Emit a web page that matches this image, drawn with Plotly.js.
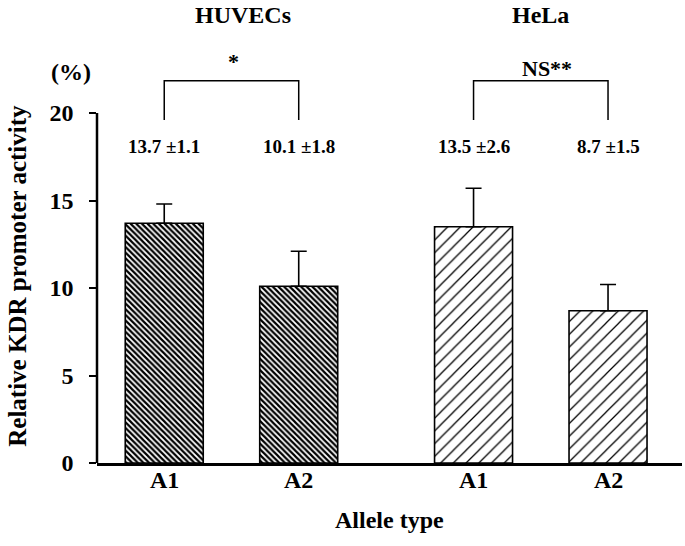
<!DOCTYPE html>
<html>
<head>
<meta charset="utf-8">
<script src="https://cdn.plot.ly/plotly-3.0.1.min.js"></script>
<style>
  html, body { margin: 0; padding: 0; background: #fff; }
  #chart { width: 685px; height: 546px; }
</style>
</head>
<body>
<div id="chart"></div>
<script>
// values
var cells = ['HUVECs', 'HUVECs', 'HeLa', 'HeLa'];
var alleles = ['A1', 'A2', 'A1', 'A2'];
var means = [13.7, 10.1, 13.5, 8.7];
var errs = [1.1, 2.0, 2.2, 1.5];   // error bars as drawn
var labels = ['13.7 \u00b11.1', '10.1 \u00b11.8', '13.5 \u00b12.6', '8.7 \u00b11.5'];
var groups = ['HUVECs', 'HeLa'];
var signif = ['*', 'NS**'];
var yTicks = [0, 5, 10, 15, 20];

var FONT = 'Liberation Serif, Times New Roman, serif';

// bar positions: one unit between alleles, a wider gap between the cell groups
var pos = cells.map(function (c, i) { return i + groups.indexOf(c) * 0.3; });

function pick(arr, g) {
  return arr.filter(function (v, i) { return cells[i] === g; });
}

var patterns = {
  HUVECs: {shape: '\\', size: 4, solidity: 0.55, fgcolor: '#000', bgcolor: '#fff'},
  HeLa: {shape: '/', size: 9, solidity: 0.14, fgcolor: '#000', bgcolor: '#fff'}
};

var data = groups.map(function (g) {
  return {
    type: 'bar',
    x: pick(pos, g),
    y: pick(means, g),
    width: 0.58,
    marker: {
      color: '#fff',
      line: {color: '#000', width: 1.6},
      pattern: patterns[g]
    },
    error_y: {
      type: 'data',
      symmetric: false,
      array: pick(errs, g),
      arrayminus: pick(errs, g).map(function () { return 0; }),
      color: '#000',
      thickness: 1.6,
      width: 8
    },
    hoverinfo: 'skip',
    showlegend: false
  };
});

var shapes = [];
var annotations = [];

// y axis line only from 0 to 20
shapes.push({type: 'line', xref: 'paper', x0: 0, x1: 0, yref: 'y', y0: 0, y1: 20,
  line: {color: '#000', width: 2.5}});

groups.forEach(function (g, k) {
  var xs = pick(pos, g);
  var mid = (xs[0] + xs[1]) / 2;
  shapes.push({
    type: 'path', xref: 'x', yref: 'y',
    path: 'M ' + xs[0] + ',19.6 L ' + xs[0] + ',21.85 L ' + xs[1] + ',21.85 L ' + xs[1] + ',19.6',
    line: {color: '#000', width: 1.5}
  });
  annotations.push({x: mid, xref: 'x', xshift: k === 0 ? 12 : 0, y: 1.067, yref: 'paper',
    yanchor: 'middle', text: '<b>' + g + '</b>',
    showarrow: false, font: {family: FONT, size: 24, color: '#000'}});
  annotations.push({x: mid, xref: 'x', xshift: k === 0 ? 2 : 6, y: k === 0 ? 22.95 : 22.55, yref: 'y',
    text: '<b>' + signif[k] + '</b>',
    showarrow: false, font: {family: FONT, size: 22, color: '#000'}});
});

labels.forEach(function (t, i) {
  annotations.push({x: pos[i], xref: 'x', y: 18.1, yref: 'y', text: '<b>' + t + '</b>',
    showarrow: false, font: {family: FONT, size: 19, color: '#000'}});
});

// x tick labels and axis titles
alleles.forEach(function (a, i) {
  annotations.push({x: pos[i], xref: 'x', y: 0, yref: 'paper', yanchor: 'top', yshift: -2,
    text: '<b>' + a + '</b>', showarrow: false, font: {family: FONT, size: 24, color: '#000'}});
});
annotations.push({x: 0.5, xref: 'paper', xanchor: 'center', y: 0, yref: 'paper', yanchor: 'top', yshift: -42,
  text: '<b>Allele type</b>', showarrow: false, font: {family: FONT, size: 24, color: '#000'}});

annotations.push({x: -0.044, xref: 'paper', xanchor: 'center', y: 22.35, yref: 'y', text: '<b>(%)</b>',
  showarrow: false, font: {family: FONT, size: 24, color: '#000'}});
annotations.push({x: -0.135, xref: 'paper', xanchor: 'center', y: 10.7, yref: 'y', textangle: -90,
  text: '<b>Relative KDR promoter activity</b>',
  showarrow: false, font: {family: FONT, size: 25, color: '#000'}});

var layout = {
  width: 685,
  height: 546,
  margin: {l: 97, r: 3, t: 43, b: 83},
  paper_bgcolor: '#fff',
  plot_bgcolor: '#fff',
  font: {family: FONT, color: '#000'},
  xaxis: {
    range: [-0.5, 3.85],
    showticklabels: false,
    ticks: '',
    showgrid: false,
    zeroline: false,
    showline: true,
    linecolor: '#000',
    linewidth: 2.5
  },
  yaxis: {
    range: [0, 24],
    tickvals: yTicks,
    // trailing spaces push the labels a little further from the axis
    ticktext: yTicks.map(function (v) { return '<b>' + v + '</b>\u00a0\u2009'; }),
    tickfont: {family: FONT, size: 24, color: '#000'},
    ticks: 'outside',
    ticklen: 7,
    tickwidth: 2,
    tickcolor: '#000',
    showgrid: false,
    zeroline: false,
    showline: false
  },
  shapes: shapes,
  annotations: annotations,
  bargap: 0
};

Plotly.newPlot('chart', data, layout, {displayModeBar: false, staticPlot: true});
</script>
</body>
</html>
